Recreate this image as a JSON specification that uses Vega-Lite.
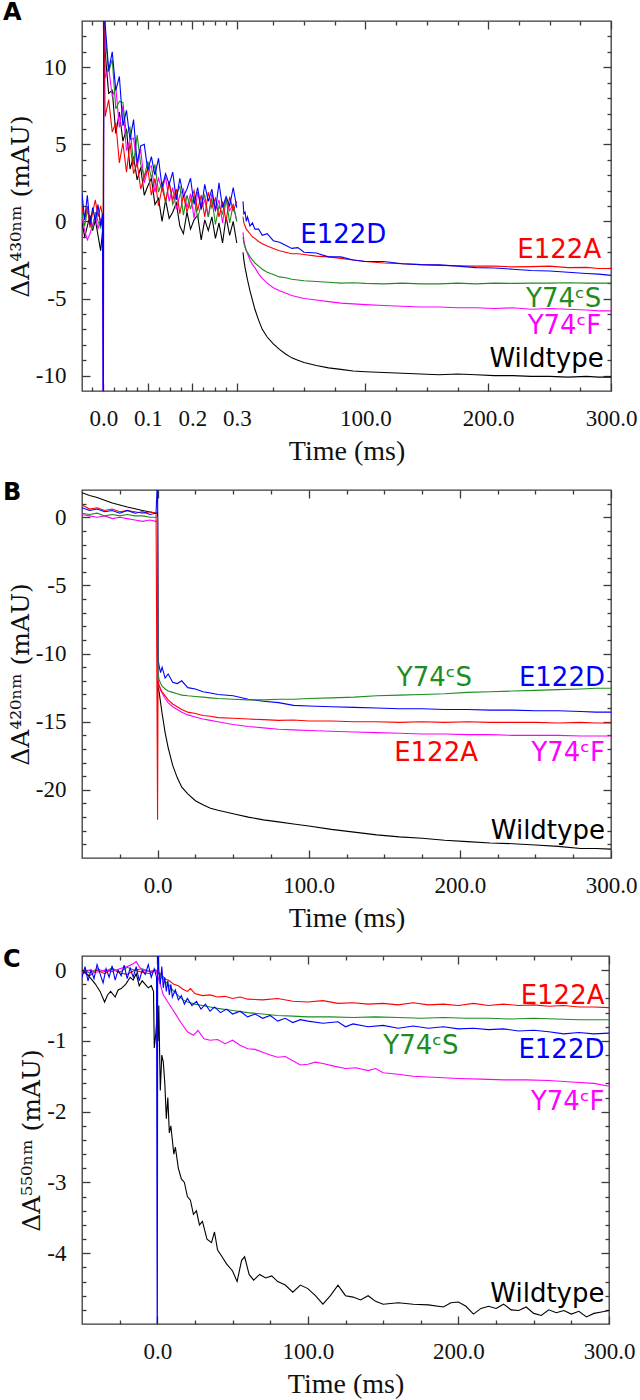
{
"$schema":"https://vega.github.io/schema/vega-lite/v6.json",
"padding":{"left":2,"top":0,"right":0,"bottom":0},
"background":"white",
"spacing":14,
"config":{
 "view":{"stroke":"#3a3a3a","strokeWidth":1.3},
 "axis":{"domain":false,"grid":false,"labelFont":"Liberation Serif","labelFontSize":23,"labelColor":"#111111","titleFont":"Liberation Serif","titleFontSize":28,"titleFontWeight":"normal","titleColor":"#111111","tickColor":"#3a3a3a","tickWidth":1.3,"labelOverlap":false,"labelFlush":false,"labelPadding":24},
 "axisLeft":{"titleFont":"DejaVu Serif","titleFontSize":25},
 "title":{"font":"DejaVu Sans","fontSize":24,"fontWeight":"bold","anchor":"start","frame":"group","baseline":"alphabetic","dx":-79,"color":"#000000"},
 "text":{"font":"DejaVu Sans","fontSize":26},
 "line":{"strokeWidth":1.1}
},
"datasets":{
 "A":[
  {"s":"w","g":0,"t":[-0.048,-0.042,-0.036,-0.03,-0.024,-0.018,-0.012,-0.006,-0.002,0,0.001,0.004,0.012,0.02,0.028,0.036,0.044,0.052,0.06,0.068,0.076,0.084,0.092,0.1,0.108,0.116,0.124,0.132,0.14,0.148,0.156,0.164,0.172,0.18,0.188,0.196,0.204,0.212,0.22,0.228,0.236,0.244,0.252,0.26,0.268,0.276,0.284,0.292,0.3],"v":[0.0,-1.0,-0.3,0.4,-0.6,0.1,-0.9,-1.9,-0.7,-0.5,15,11.0,8.3,8.5,5.7,7.1,5.2,6.0,3.4,4.2,2.7,3.5,1.7,2.3,2.8,1.1,1.5,0.0,1.4,0.2,0.6,1.2,-0.3,-0.8,0.6,-0.5,0.1,0.4,-1.2,0.1,-0.6,0.3,-1.1,-0.1,-1.4,0.3,-0.9,0.0,-1.4]},
  {"s":"f","g":0,"t":[-0.048,-0.042,-0.036,-0.03,-0.024,-0.018,-0.012,-0.006,-0.002,0,0.001,0.004,0.012,0.02,0.028,0.036,0.044,0.052,0.06,0.068,0.076,0.084,0.092,0.1,0.108,0.116,0.124,0.132,0.14,0.148,0.156,0.164,0.172,0.18,0.188,0.196,0.204,0.212,0.22,0.228,0.236,0.244,0.252,0.26,0.268,0.276,0.284,0.292,0.3],"v":[0.3,-0.6,-1.2,-0.8,-0.2,0.4,-0.5,0.2,-0.3,-16,16,9.3,10.0,8.1,8.7,6.1,7.5,4.6,5.3,5.4,3.5,4.7,2.5,3.4,3.6,1.9,2.8,2.0,2.9,1.3,2.2,0.8,1.7,2.1,0.9,1.8,0.2,1.9,0.8,1.4,0.3,1.8,0.7,1.4,-0.1,1.4,0.7,1.1,0.0]},
  {"s":"s","g":0,"t":[-0.048,-0.042,-0.036,-0.03,-0.024,-0.018,-0.012,-0.006,-0.002,0,0.001,0.004,0.012,0.02,0.028,0.036,0.044,0.052,0.06,0.068,0.076,0.084,0.092,0.1,0.108,0.116,0.124,0.132,0.14,0.148,0.156,0.164,0.172,0.18,0.188,0.196,0.204,0.212,0.22,0.228,0.236,0.244,0.252,0.26,0.268,0.276,0.284,0.292,0.3],"v":[0.5,-0.3,0.7,0.1,-0.5,0.6,0.0,-0.4,0.2,0.2,15,12.1,9.7,10.5,7.3,7.8,7.7,5.6,6.1,3.7,5.6,3.7,2.9,3.9,2.8,3.7,1.9,2.6,1.2,2.6,1.1,1.7,2.3,0.4,1.7,0.8,1.7,0.2,1.1,1.7,0.3,1.5,-0.2,1.0,0.5,1.5,-0.1,1.1,0.0]},
  {"s":"a","g":0,"t":[-0.048,-0.042,-0.036,-0.03,-0.024,-0.018,-0.012,-0.006,-0.002,0,0.001,0.004,0.012,0.02,0.028,0.036,0.044,0.052,0.06,0.068,0.076,0.084,0.092,0.1,0.108,0.116,0.124,0.132,0.14,0.148,0.156,0.164,0.172,0.18,0.188,0.196,0.204,0.212,0.22,0.228,0.236,0.244,0.252,0.26,0.268,0.276,0.284,0.292,0.3],"v":[0.9,0.2,1.0,-0.4,0.6,1.4,0.3,1.0,0.4,0.4,15,6.8,7.9,5.8,6.4,3.8,5.1,3.2,5.1,3.1,3.8,2.1,2.9,3.4,1.7,2.8,1.0,2.2,1.3,2.5,1.4,2.1,0.5,1.7,0.6,1.4,2.0,0.7,1.7,0.3,1.9,0.9,1.5,0.3,1.3,0.0,1.6,0.7,1.3]},
  {"s":"d","g":0,"t":[-0.048,-0.042,-0.036,-0.03,-0.024,-0.018,-0.012,-0.006,-0.002,0,0.001,0.004,0.012,0.02,0.028,0.036,0.044,0.052,0.06,0.068,0.076,0.084,0.092,0.1,0.108,0.116,0.124,0.132,0.14,0.148,0.156,0.164,0.172,0.18,0.188,0.196,0.204,0.212,0.22,0.228,0.236,0.244,0.252,0.26,0.268,0.276,0.284,0.292,0.3],"v":[1.8,0.1,1.7,-0.2,0.9,0.0,1.1,-0.3,0.5,-16,16,12.8,9.8,11.0,8.5,9.4,6.2,7.2,5.3,6.6,3.8,4.9,5.0,3.3,4.2,3.0,4.1,2.2,3.1,2.4,3.2,1.4,2.8,1.6,2.1,2.8,1.1,2.2,0.8,2.4,1.3,2.1,0.7,2.5,0.9,1.6,1.0,2.2,0.9]},
  {"s":"w","g":1,"t":[0.31,1,2,3,4,6,8,10,13,16,20,25,30,35,40,45,50,60,70,80,90,100,115,130,145,160,175,190,205,220,235,250,265,280,290,300],"v":[-2.0,-2.5,-3.0,-3.4,-3.8,-4.5,-5.1,-5.7,-6.4,-7.0,-7.5,-7.95,-8.3,-8.6,-8.85,-9.0,-9.15,-9.35,-9.5,-9.6,-9.7,-9.75,-9.8,-9.85,-9.9,-9.95,-9.9,-9.95,-10.0,-10.0,-10.05,-10.05,-10.1,-10.05,-10.1,-10.1]},
  {"s":"f","g":1,"t":[0.31,1,2,3,4,6,8,10,13,16,20,25,30,35,40,45,50,60,70,80,90,100,115,130,145,160,175,190,205,220,235,250,265,280,290,300],"v":[-0.7,-1.2,-1.6,-1.9,-2.1,-2.5,-2.8,-3.0,-3.4,-3.7,-4.0,-4.3,-4.5,-4.65,-4.8,-4.9,-5.0,-5.1,-5.2,-5.3,-5.35,-5.4,-5.45,-5.5,-5.55,-5.55,-5.6,-5.6,-5.65,-5.6,-5.7,-5.65,-5.7,-5.75,-5.8,-5.8]},
  {"s":"s","g":1,"t":[0.31,1,2,3,4,6,8,10,13,16,20,25,30,35,40,45,50,60,70,80,90,100,115,130,145,160,175,190,205,220,235,250,265,280,290,300],"v":[-1.0,-1.4,-1.7,-1.9,-2.0,-2.3,-2.5,-2.7,-2.9,-3.1,-3.3,-3.45,-3.6,-3.65,-3.75,-3.8,-3.85,-3.9,-3.95,-4.0,-3.98,-4.02,-4.05,-4.0,-4.05,-4.05,-4.0,-4.05,-4.0,-4.02,-4.0,-4.0,-3.98,-4.0,-4.0,-4.0]},
  {"s":"a","g":1,"t":[0.31,1,2,3,4,6,8,10,13,16,20,25,30,35,40,45,50,60,70,80,90,100,115,130,145,160,175,190,205,220,235,250,265,280,290,300],"v":[0.3,-0.1,-0.3,-0.5,-0.6,-0.8,-1.0,-1.1,-1.3,-1.45,-1.6,-1.75,-1.9,-2.0,-2.1,-2.1,-2.15,-2.25,-2.3,-2.4,-2.5,-2.6,-2.7,-2.75,-2.8,-2.85,-2.88,-2.9,-2.9,-2.95,-2.93,-2.9,-3.0,-2.98,-3.05,-3.05]},
  {"s":"d","g":1,"t":[0.31,1,2,3,4,6,8,10,13,16,20,25,30,35,40,45,50,60,70,80,90,100,115,130,145,160,175,190,205,220,235,250,265,280,290,300],"v":[1.3,0.5,0.6,0.0,0.3,-0.3,-0.1,-0.5,-0.5,-0.9,-0.8,-1.25,-1.35,-1.55,-1.75,-1.7,-2.0,-2.05,-2.3,-2.3,-2.5,-2.6,-2.6,-2.75,-2.8,-2.82,-2.9,-3.0,-3.02,-3.1,-3.18,-3.22,-3.3,-3.38,-3.42,-3.5]}
 ],
 "B":[
  {"s":"w","t":[-50,-45,-40,-35,-30,-25,-20,-15,-10,-5,-1,0,0.3,1,2,3,5,7,10,13,16,20,25,30,35,40,50,60,70,80,90,100,115,130,145,160,175,190,205,220,235,250,265,280,290,300],"v":[1.8,1.6,1.45,1.25,1.05,0.9,0.75,0.62,0.5,0.38,0.3,0.3,-12.5,-12.8,-13.6,-14.4,-15.8,-16.9,-18.2,-19.1,-19.8,-20.3,-20.8,-21.1,-21.35,-21.5,-21.75,-22.0,-22.2,-22.35,-22.5,-22.65,-22.9,-23.1,-23.3,-23.45,-23.55,-23.7,-23.8,-23.9,-23.95,-24.05,-24.15,-24.3,-24.3,-24.35]},
  {"s":"f","t":[-50,-45,-40,-35,-30,-25,-20,-15,-10,-5,-1,0,0.3,1,2,3,5,7,10,13,16,20,25,30,35,40,50,60,70,80,90,100,115,130,145,160,175,190,205,220,235,250,265,280,290,300],"v":[0.2,0.1,0.0,0.1,-0.1,0.0,-0.1,-0.2,-0.3,-0.2,-0.3,-0.3,-12.2,-12.4,-12.7,-12.9,-13.3,-13.6,-13.9,-14.1,-14.3,-14.5,-14.65,-14.8,-14.9,-15.0,-15.2,-15.35,-15.45,-15.55,-15.6,-15.65,-15.7,-15.75,-15.8,-15.85,-15.9,-15.9,-15.95,-15.95,-16.0,-16.0,-16.0,-16.05,-16.05,-16.05]},
  {"s":"a","t":[-50,-45,-40,-35,-30,-25,-20,-15,-10,-5,-1,0,0.3,1,2,3,5,7,10,13,16,20,25,30,35,40,50,60,70,80,90,100,115,130,145,160,175,190,205,220,235,250,265,280,290,300],"v":[0.9,0.6,0.7,0.5,0.6,0.4,0.5,0.4,0.3,0.4,0.3,-22.2,-12.0,-12.3,-12.6,-12.8,-13.1,-13.4,-13.7,-13.9,-14.1,-14.3,-14.4,-14.55,-14.6,-14.7,-14.75,-14.8,-14.85,-14.9,-14.88,-14.95,-14.95,-15.0,-15.0,-15.05,-15.0,-15.05,-15.0,-15.05,-15.05,-15.05,-15.1,-15.05,-15.1,-15.1]},
  {"s":"d","t":[-50,-45,-40,-35,-30,-25,-20,-15,-10,-5,-1,0,0.3,1,2,3,5,7,10,13,16,20,25,30,35,40,50,60,70,80,90,100,115,130,145,160,175,190,205,220,235,250,265,280,290,300],"v":[0.7,0.5,0.6,0.4,0.5,0.3,0.5,0.3,0.4,0.2,0.3,3,-10.4,-10.9,-11.4,-11.0,-11.8,-11.5,-12.1,-12.2,-12.0,-12.5,-12.6,-12.8,-12.9,-13.0,-13.1,-13.35,-13.5,-13.6,-13.8,-13.85,-13.9,-13.95,-14.0,-14.05,-14.05,-14.1,-14.1,-14.15,-14.15,-14.2,-14.2,-14.25,-14.3,-14.3]},
  {"s":"s","t":[-50,-45,-40,-35,-30,-25,-20,-15,-10,-5,-1,0,0.3,1,2,3,5,7,10,13,16,20,25,30,35,40,50,60,70,80,90,100,115,130,145,160,175,190,205,220,235,250,265,280,290,300],"v":[0.3,0.2,0.3,0.1,0.2,0.1,0.2,0.1,0.1,0.0,0.0,0.0,-11.5,-11.9,-12.2,-12.4,-12.6,-12.75,-12.85,-12.95,-13.05,-13.1,-13.15,-13.2,-13.25,-13.3,-13.35,-13.4,-13.4,-13.35,-13.35,-13.3,-13.25,-13.2,-13.1,-13.05,-13.0,-12.95,-12.85,-12.8,-12.75,-12.7,-12.65,-12.6,-12.55,-12.55]}
 ],
 "C":[
  {"s":"a","t":[-50,-45,-40,-35,-30,-25,-20,-15,-10,-5,-1,2,5,8,11,14,17,20,22,25,30,35,40,45,50,55,60,70,80,90,100,110,120,130,140,150,160,170,180,190,200,210,220,230,240,250,260,270,280,290,300],"v":[-0.02,-0.08,0.0,-0.05,0.02,-0.04,-0.06,0.0,-0.03,-0.05,0.0,-0.05,-0.12,-0.15,-0.2,-0.22,-0.27,-0.3,-0.26,-0.33,-0.36,-0.35,-0.38,-0.37,-0.4,-0.38,-0.41,-0.42,-0.4,-0.44,-0.45,-0.43,-0.47,-0.46,-0.48,-0.47,-0.49,-0.46,-0.49,-0.48,-0.5,-0.47,-0.5,-0.48,-0.5,-0.49,-0.51,-0.5,-0.52,-0.52,-0.53]},
  {"s":"s","t":[-50,-45,-40,-35,-30,-25,-20,-15,-10,-5,-1,2,5,8,11,14,17,20,25,30,35,40,50,60,70,80,90,100,115,130,145,160,175,190,205,220,235,250,265,280,290,300],"v":[0.0,-0.04,0.02,-0.02,0.03,-0.03,0.04,0.0,0.02,-0.02,0.0,-0.08,-0.15,-0.22,-0.3,-0.36,-0.42,-0.45,-0.48,-0.5,-0.52,-0.54,-0.57,-0.6,-0.62,-0.64,-0.65,-0.66,-0.66,-0.67,-0.66,-0.67,-0.68,-0.67,-0.68,-0.68,-0.69,-0.68,-0.69,-0.7,-0.7,-0.7]},
  {"s":"f","t":[-50,-45,-40,-35,-30,-25,-20,-16,-14,-12,-10,-5,-1,2,4,7,10,13,16,20,24,27,31,35,40,45,50,55,60,65,70,75,80,85,90,95,100,105,110,118,125,132,140,145,150,160,170,180,190,200,215,230,245,260,275,290,300],"v":[-0.05,0.0,-0.03,0.0,-0.02,0.02,0.05,0.09,0.12,0.05,0.0,-0.02,0.0,-0.2,-0.35,-0.45,-0.55,-0.65,-0.75,-0.87,-0.92,-0.85,-0.97,-0.99,-0.98,-1.04,-0.99,-1.06,-1.11,-1.12,-1.16,-1.2,-1.23,-1.22,-1.28,-1.34,-1.33,-1.3,-1.32,-1.36,-1.39,-1.38,-1.42,-1.39,-1.45,-1.47,-1.5,-1.51,-1.52,-1.53,-1.54,-1.55,-1.55,-1.56,-1.58,-1.6,-1.64]},
  {"s":"w","t":[-50,-47,-44,-41,-38,-35,-33,-31,-28,-26,-24,-21,-18,-16,-14,-12,-10,-8,-6,-4,-2.5,-2,-1,0,0.5,1,2,3,4,5,6,7,8,9,10,11,12,14,16,18,20,22,24,26,28,30,33,36,38,40,43,46,50,53,56,58,61,64,68,72,76,80,85,90,95,100,105,110,115,120,125,130,135,140,145,150,160,170,180,190,195,200,205,210,215,220,225,230,235,240,245,250,255,260,265,270,275,280,285,290,295,300],"v":[0.0,-0.05,-0.12,-0.2,-0.3,-0.45,-0.35,-0.3,-0.38,-0.28,-0.26,-0.2,-0.1,-0.14,-0.05,-0.22,-0.15,-0.2,-0.25,-0.22,-0.3,-1.1,-0.9,-0.6,-1.0,-0.5,-1.7,-1.2,-1.3,-1.6,-2.1,-1.8,-2.3,-2.2,-2.4,-2.6,-2.5,-2.8,-2.95,-3.0,-3.2,-3.25,-3.45,-3.4,-3.6,-3.55,-3.8,-3.85,-3.7,-3.95,-4.05,-4.15,-4.25,-4.4,-4.1,-4.05,-4.3,-4.38,-4.3,-4.35,-4.32,-4.4,-4.45,-4.55,-4.45,-4.5,-4.6,-4.72,-4.6,-4.45,-4.6,-4.62,-4.66,-4.6,-4.68,-4.72,-4.7,-4.72,-4.73,-4.76,-4.7,-4.69,-4.75,-4.86,-4.78,-4.75,-4.78,-4.72,-4.8,-4.81,-4.76,-4.85,-4.88,-4.8,-4.84,-4.81,-4.86,-4.82,-4.9,-4.85,-4.83,-4.81]},
  {"s":"d","t":[-50,-48,-46,-44,-42,-40,-38,-36,-34,-32,-30,-28,-26,-24,-22,-20,-18,-16,-14,-12,-10,-8,-6,-4,-2,-0.5,0,0.3,1,2,3,4,5,6,7,8,9,10,12,14,16,18,20,23,26,29,32,35,38,42,46,50,55,60,65,70,75,80,85,90,95,100,110,120,125,130,140,150,160,170,180,190,200,210,220,230,240,250,260,270,280,290,300],"v":[-0.1,0.05,-0.15,0.0,-0.12,0.08,-0.05,-0.18,0.02,-0.1,0.06,-0.14,0.0,-0.08,0.07,-0.12,0.03,-0.1,0.05,-0.15,0.0,-0.06,0.08,-0.1,0.02,-0.1,-6,1.0,0.0,-0.2,0.05,-0.25,-0.1,-0.3,-0.15,-0.35,-0.2,-0.38,-0.28,-0.42,-0.36,-0.48,-0.4,-0.5,-0.44,-0.55,-0.48,-0.58,-0.52,-0.6,-0.55,-0.62,-0.58,-0.66,-0.62,-0.68,-0.64,-0.72,-0.68,-0.74,-0.7,-0.72,-0.75,-0.73,-0.8,-0.76,-0.8,-0.78,-0.82,-0.79,-0.82,-0.8,-0.83,-0.82,-0.84,-0.83,-0.86,-0.85,-0.87,-0.9,-0.88,-0.9,-0.89]}
 ],
 "labA":[{"s":"d","t":117,"v":-1.4,"l":"E122D"},{"s":"a","t":292,"v":-2.4,"l":"E122A"},{"s":"s","t":292,"v":-5.56,"l":"Y74ᶜS"},{"s":"f","t":292,"v":-7.3,"l":"Y74ᶜF"},{"s":"w","t":294,"v":-9.45,"l":"Wildtype"}],
 "labB":[{"s":"s","t":208,"v":-12.4,"l":"Y74ᶜS"},{"s":"d","t":296,"v":-12.4,"l":"E122D"},{"s":"a","t":212,"v":-17.9,"l":"E122A"},{"s":"f","t":296,"v":-17.9,"l":"Y74ᶜF"},{"s":"w","t":296,"v":-23.6,"l":"Wildtype"}],
 "labC":[{"s":"a","t":297,"v":-0.48,"l":"E122A"},{"s":"s","t":200,"v":-1.18,"l":"Y74ᶜS"},{"s":"d","t":297,"v":-1.24,"l":"E122D"},{"s":"f","t":297,"v":-1.97,"l":"Y74ᶜF"},{"s":"w","t":297,"v":-4.69,"l":"Wildtype"}]
},
"vconcat":[
 {
  "width":529,"height":370,
  "title":{"text":"A","offset":-5},
  "layer":[
   {"data":{"name":"A"},"transform":[{"flatten":["t","v"]}],"mark":{"type":"line","clip":true},
    "encoding":{
     "x":{"field":"t","type":"quantitative","scale":{"domain":[-0.048,0.305,0.306,300],"range":[0,157,161,529],"nice":false,"zero":false},
      "axis":{"orient":"bottom","values":[-0.025,0,0.025,0.05,0.075,0.1,0.125,0.15,0.175,0.2,0.225,0.25,0.275,0.3,25,50,75,100,125,150,175,200,225,250,275,300],"labelExpr":"indexof([0,0.1,0.2,0.3,100,200,300],datum.value)>=0?format(datum.value,'.1f'):''","tickSize":{"condition":{"test":"indexof([0,0.1,0.2,0.3,100,200,300],datum.value)>=0","value":-8},"value":-4},"title":"Time (ms)","titlePadding":3}},
     "y":{"field":"v","type":"quantitative","scale":{"domain":[-11,13],"nice":false,"zero":false},
      "axis":{"orient":"left","values":[-10,-9,-8,-7,-6,-5,-4,-3,-2,-1,0,1,2,3,4,5,6,7,8,9,10,11,12],"labelExpr":"datum.value%5===0?''+datum.value:''","tickSize":{"condition":{"test":"datum.value%5===0","value":-8},"value":-4},"title":"ΔA⁴³⁰ⁿᵐ (mAU)","titlePadding":2}},
     "color":{"field":"s","type":"nominal","scale":{"domain":["a","d","s","f","w"],"range":["#ff0000","#0000ff","#1e8c1e","#ff00ff","#000000"]},"legend":null},
     "detail":{"field":"g"},
     "strokeWidth":{"condition":{"test":"datum.s==='w'","value":1.8},"value":1.1}
    }},
   {"data":{"name":"labA"},"mark":{"type":"text","align":"right","baseline":"alphabetic"},
    "encoding":{
     "x":{"field":"t","type":"quantitative","axis":{"orient":"top","values":[-0.025,0,0.025,0.05,0.075,0.1,0.125,0.15,0.175,0.2,0.225,0.25,0.275,0.3,25,50,75,100,125,150,175,200,225,250,275,300],"labels":false,"title":null,"tickSize":{"condition":{"test":"indexof([0,0.1,0.2,0.3,100,200,300],datum.value)>=0","value":-8},"value":-4}}},
     "y":{"field":"v","type":"quantitative","axis":{"orient":"right","values":[-10,-9,-8,-7,-6,-5,-4,-3,-2,-1,0,1,2,3,4,5,6,7,8,9,10,11,12],"labels":false,"title":null,"tickSize":{"condition":{"test":"datum.value%5===0","value":-8},"value":-4}}},
     "text":{"field":"l"},
     "color":{"field":"s","type":"nominal","legend":null}
    }},
   {"mark":{"type":"rect","color":"white"},"encoding":{"x":{"datum":0.3052,"axis":null},"x2":{"datum":0.3058},"y":{"datum":12.8,"axis":null},"y2":{"datum":13.2}}},
   {"mark":{"type":"rect","color":"white"},"encoding":{"x":{"datum":0.3052,"axis":null},"x2":{"datum":0.3058},"y":{"datum":-11.2,"axis":null},"y2":{"datum":-10.8}}},
   {"mark":{"type":"rule","color":"#3a3a3a","strokeWidth":1.3},"encoding":{"x":{"datum":0.305,"axis":null},"y":{"datum":12.6,"axis":null},"y2":{"datum":13.4}}},
   {"mark":{"type":"rule","color":"#3a3a3a","strokeWidth":1.3},"encoding":{"x":{"datum":0.306,"axis":null},"y":{"datum":12.6,"axis":null},"y2":{"datum":13.4}}},
   {"mark":{"type":"rule","color":"#3a3a3a","strokeWidth":1.3},"encoding":{"x":{"datum":0.305,"axis":null},"y":{"datum":-11.4,"axis":null},"y2":{"datum":-10.6}}},
   {"mark":{"type":"rule","color":"#3a3a3a","strokeWidth":1.3},"encoding":{"x":{"datum":0.306,"axis":null},"y":{"datum":-11.4,"axis":null},"y2":{"datum":-10.6}}}
  ],
  "resolve":{"axis":{"x":"independent","y":"independent"}}
 },
 {
  "width":529,"height":368,
  "title":{"text":"B","offset":-16},
  "layer":[
   {"data":{"name":"B"},"transform":[{"flatten":["t","v"]}],"mark":{"type":"line","clip":true},
    "encoding":{
     "x":{"field":"t","type":"quantitative","scale":{"domain":[-50,300],"nice":false,"zero":false},
      "axis":{"orient":"bottom","values":[-25,0,25,50,75,100,125,150,175,200,225,250,275,300],"labelExpr":"datum.value%100===0?format(datum.value,'.1f'):''","tickSize":{"condition":{"test":"datum.value%100===0","value":-8},"value":-4},"title":"Time (ms)","titlePadding":3}},
     "y":{"field":"v","type":"quantitative","scale":{"domain":[-25,2],"nice":false,"zero":false},
      "axis":{"orient":"left","values":[-24,-23,-22,-21,-20,-19,-18,-17,-16,-15,-14,-13,-12,-11,-10,-9,-8,-7,-6,-5,-4,-3,-2,-1,0,1],"labelExpr":"datum.value%5===0?''+datum.value:''","tickSize":{"condition":{"test":"datum.value%5===0","value":-8},"value":-4},"title":"ΔA⁴²⁰ⁿᵐ (mAU)","titlePadding":2}},
     "color":{"field":"s","type":"nominal","scale":{"domain":["a","d","s","f","w"],"range":["#ff0000","#0000ff","#1e8c1e","#ff00ff","#000000"]},"legend":null},
     "strokeWidth":{"condition":{"test":"datum.s==='w'","value":1.8},"value":1.1}
    }},
   {"data":{"name":"labB"},"mark":{"type":"text","align":"right","baseline":"alphabetic"},
    "encoding":{
     "x":{"field":"t","type":"quantitative","axis":{"orient":"top","values":[-25,0,25,50,75,100,125,150,175,200,225,250,275,300],"labels":false,"title":null,"tickSize":{"condition":{"test":"datum.value%100===0","value":-8},"value":-4}}},
     "y":{"field":"v","type":"quantitative","axis":{"orient":"right","values":[-24,-23,-22,-21,-20,-19,-18,-17,-16,-15,-14,-13,-12,-11,-10,-9,-8,-7,-6,-5,-4,-3,-2,-1,0,1],"labels":false,"title":null,"tickSize":{"condition":{"test":"datum.value%5===0","value":-8},"value":-4}}},
     "text":{"field":"l"},
     "color":{"field":"s","type":"nominal","legend":null}
    }}
  ],
  "resolve":{"axis":{"x":"independent","y":"independent"}}
 },
 {
  "width":527,"height":368,
  "title":{"text":"C","offset":-17},
  "layer":[
   {"data":{"name":"C"},"transform":[{"flatten":["t","v"]}],"mark":{"type":"line","clip":true},
    "encoding":{
     "x":{"field":"t","type":"quantitative","scale":{"domain":[-50,300],"nice":false,"zero":false},
      "axis":{"orient":"bottom","values":[-25,0,25,50,75,100,125,150,175,200,225,250,275,300],"labelExpr":"datum.value%100===0?format(datum.value,'.1f'):''","tickSize":{"condition":{"test":"datum.value%100===0","value":-8},"value":-4},"title":"Time (ms)","titlePadding":3}},
     "y":{"field":"v","type":"quantitative","scale":{"domain":[-5,0.2],"nice":false,"zero":false},
      "axis":{"orient":"left","values":[-4.8,-4.6,-4.4,-4.2,-4,-3.8,-3.6,-3.4,-3.2,-3,-2.8,-2.6,-2.4,-2.2,-2,-1.8,-1.6,-1.4,-1.2,-1,-0.8,-0.6,-0.4,-0.2,0],"labelExpr":"abs(datum.value-round(datum.value))<0.001?''+round(datum.value):''","tickSize":{"condition":{"test":"abs(datum.value-round(datum.value))<0.001","value":-8},"value":-4},"title":"ΔA⁵⁵⁰ⁿᵐ (mAU)","titlePadding":2}},
     "color":{"field":"s","type":"nominal","scale":{"domain":["a","d","s","f","w"],"range":["#ff0000","#0000ff","#1e8c1e","#ff00ff","#000000"]},"legend":null},
     "strokeWidth":{"condition":{"test":"datum.s==='w'","value":1.5},"value":1.1}
    }},
   {"data":{"name":"labC"},"mark":{"type":"text","align":"right","baseline":"alphabetic"},
    "encoding":{
     "x":{"field":"t","type":"quantitative","axis":{"orient":"top","values":[-25,0,25,50,75,100,125,150,175,200,225,250,275,300],"labels":false,"title":null,"tickSize":{"condition":{"test":"datum.value%100===0","value":-8},"value":-4}}},
     "y":{"field":"v","type":"quantitative","axis":{"orient":"right","values":[-4.8,-4.6,-4.4,-4.2,-4,-3.8,-3.6,-3.4,-3.2,-3,-2.8,-2.6,-2.4,-2.2,-2,-1.8,-1.6,-1.4,-1.2,-1,-0.8,-0.6,-0.4,-0.2,0],"labels":false,"title":null,"tickSize":{"condition":{"test":"abs(datum.value-round(datum.value))<0.001","value":-8},"value":-4}}},
     "text":{"field":"l"},
     "color":{"field":"s","type":"nominal","legend":null}
    }}
  ],
  "resolve":{"axis":{"x":"independent","y":"independent"}}
 }
]
}
